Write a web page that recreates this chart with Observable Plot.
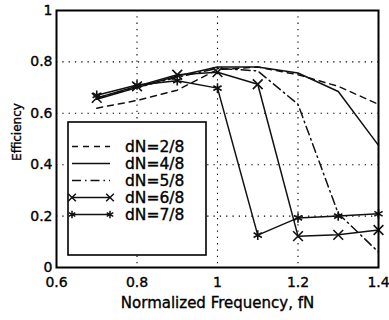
<!DOCTYPE html>
<html>
<head>
<meta charset="utf-8">
<script src="https://cdn.jsdelivr.net/npm/d3@7"></script>
<script src="https://cdn.jsdelivr.net/npm/@observablehq/plot@0.6"></script>
<style>
  html, body { margin: 0; padding: 0; background: #fff; }
  #chart { position: relative; width: 389px; height: 320px; }
  #chart svg text { stroke: #000; stroke-width: 0.35px; }
</style>
</head>
<body>
<div id="chart"></div>
<script>
const freq = [0.7, 0.8, 0.9, 1.0, 1.1, 1.2, 1.3, 1.4];
const eff28 = [0.62, 0.65, 0.69, 0.77, 0.78, 0.75, 0.705, 0.635];
const eff48 = [0.655, 0.70, 0.745, 0.78, 0.78, 0.757, 0.685, 0.475];
const eff58 = [0.66, 0.70, 0.74, 0.775, 0.765, 0.635, 0.21, 0.06];
const eff68 = [0.66, 0.705, 0.75, 0.76, 0.713, 0.122, 0.127, 0.146];
const eff78 = [0.67, 0.71, 0.727, 0.698, 0.126, 0.193, 0.2, 0.209];
const seriesNames = ["dN=2/8", "dN=4/8", "dN=5/8", "dN=6/8", "dN=7/8"];
const xTicks = [0.6, 0.8, 1.0, 1.2, 1.4];
const yTicks = [0, 0.2, 0.4, 0.6, 0.8, 1.0];

const allSeries = [eff28, eff48, eff58, eff68, eff78];
const rows = [];
allSeries.forEach((vals, i) => vals.forEach((v, j) => rows.push({ s: seriesNames[i], f: freq[j], e: v })));
const only = (name) => rows.filter(d => d.s === name);

const styles = {
  "dN=2/8": { dash: "6,5", symbol: null },
  "dN=4/8": { dash: null, symbol: null },
  "dN=5/8": { dash: "9,4,1.5,4", symbol: null },
  "dN=6/8": { dash: null, symbol: "times" },
  "dN=7/8": { dash: null, symbol: "asterisk" }
};

const fmt = d => String(+d.toFixed(1));
const font = "'DejaVu Sans', Verdana, sans-serif";

const marks = [
  Plot.ruleX(xTicks.slice(1), { stroke: "#000", strokeWidth: 1.1, strokeDasharray: "1.3,5" }),
  Plot.ruleY(yTicks.slice(1, -1), { stroke: "#000", strokeWidth: 1.1, strokeDasharray: "1.3,5" })
];
seriesNames.forEach(name => {
  const st = styles[name];
  marks.push(Plot.line(only(name), { x: "f", y: "e", stroke: "#111", strokeWidth: 1.5, strokeDasharray: st.dash }));
  if (st.symbol) marks.push(Plot.dot(only(name), { x: "f", y: "e", symbol: st.symbol, r: 4.5, stroke: "#111", strokeWidth: 1.6 }));
});
marks.push(Plot.frame({ stroke: "#000", strokeWidth: 2 }));
marks.push(Plot.axisX({ ticks: xTicks, tickFormat: fmt, tickSize: 0, tickPadding: 10, fontSize: 14, label: null }));
marks.push(Plot.axisY({ ticks: yTicks, tickFormat: fmt, tickSize: 0, tickPadding: 4, fontSize: 14, label: null }));
marks.push(Plot.text(["Normalized Frequency, fN"], { frameAnchor: "bottom", lineAnchor: "middle", dy: 36, fontSize: 15, fill: "#000" }));
marks.push(Plot.text(["Efficiency"], { frameAnchor: "left", textAnchor: "middle", lineAnchor: "middle", dx: -39, dy: -7, rotate: -90, fontSize: 12, fill: "#000" }));

const plot = Plot.plot({
  width: 389,
  height: 320,
  marginLeft: 56,
  marginRight: 11,
  marginTop: 10,
  marginBottom: 53,
  style: { fontFamily: font, fontSize: "14px", color: "#000", background: "#fff", overflow: "visible" },
  x: { domain: [0.6, 1.4] },
  y: { domain: [0, 1] },
  marks
});
document.getElementById("chart").appendChild(plot);

// Legend inside plot area
const svg = d3.select(plot);
const g = svg.append("g");
const bx = 68, by = 122, bw = 138, bh = 133;
g.append("rect").attr("x", bx).attr("y", by).attr("width", bw).attr("height", bh)
  .attr("fill", "#fff").attr("stroke", "#000").attr("stroke-width", 1.6);
seriesNames.forEach((name, i) => {
  const st = styles[name];
  const y = 146.5 + i * 17;
  g.append("line").attr("x1", 72).attr("x2", 110).attr("y1", y).attr("y2", y)
    .attr("stroke", "#111").attr("stroke-width", 1.5)
    .attr("stroke-dasharray", st.dash ? st.dash : null);
  if (st.symbol) {
    const sym = st.symbol === "times" ? d3.symbolTimes : d3.symbolAsterisk;
    [72, 110].forEach(x => {
      g.append("path").attr("d", d3.symbol(sym, 40)()).attr("transform", `translate(${x},${y})`)
        .attr("fill", "none").attr("stroke", "#111").attr("stroke-width", 1.5);
    });
  }
  g.append("text").attr("x", 125).attr("y", y).attr("dy", "0.36em")
    .attr("text-anchor", "start")
    .attr("font-size", 15.5).attr("font-family", font).attr("fill", "#000").text(name);
});
</script>
</body>
</html>
